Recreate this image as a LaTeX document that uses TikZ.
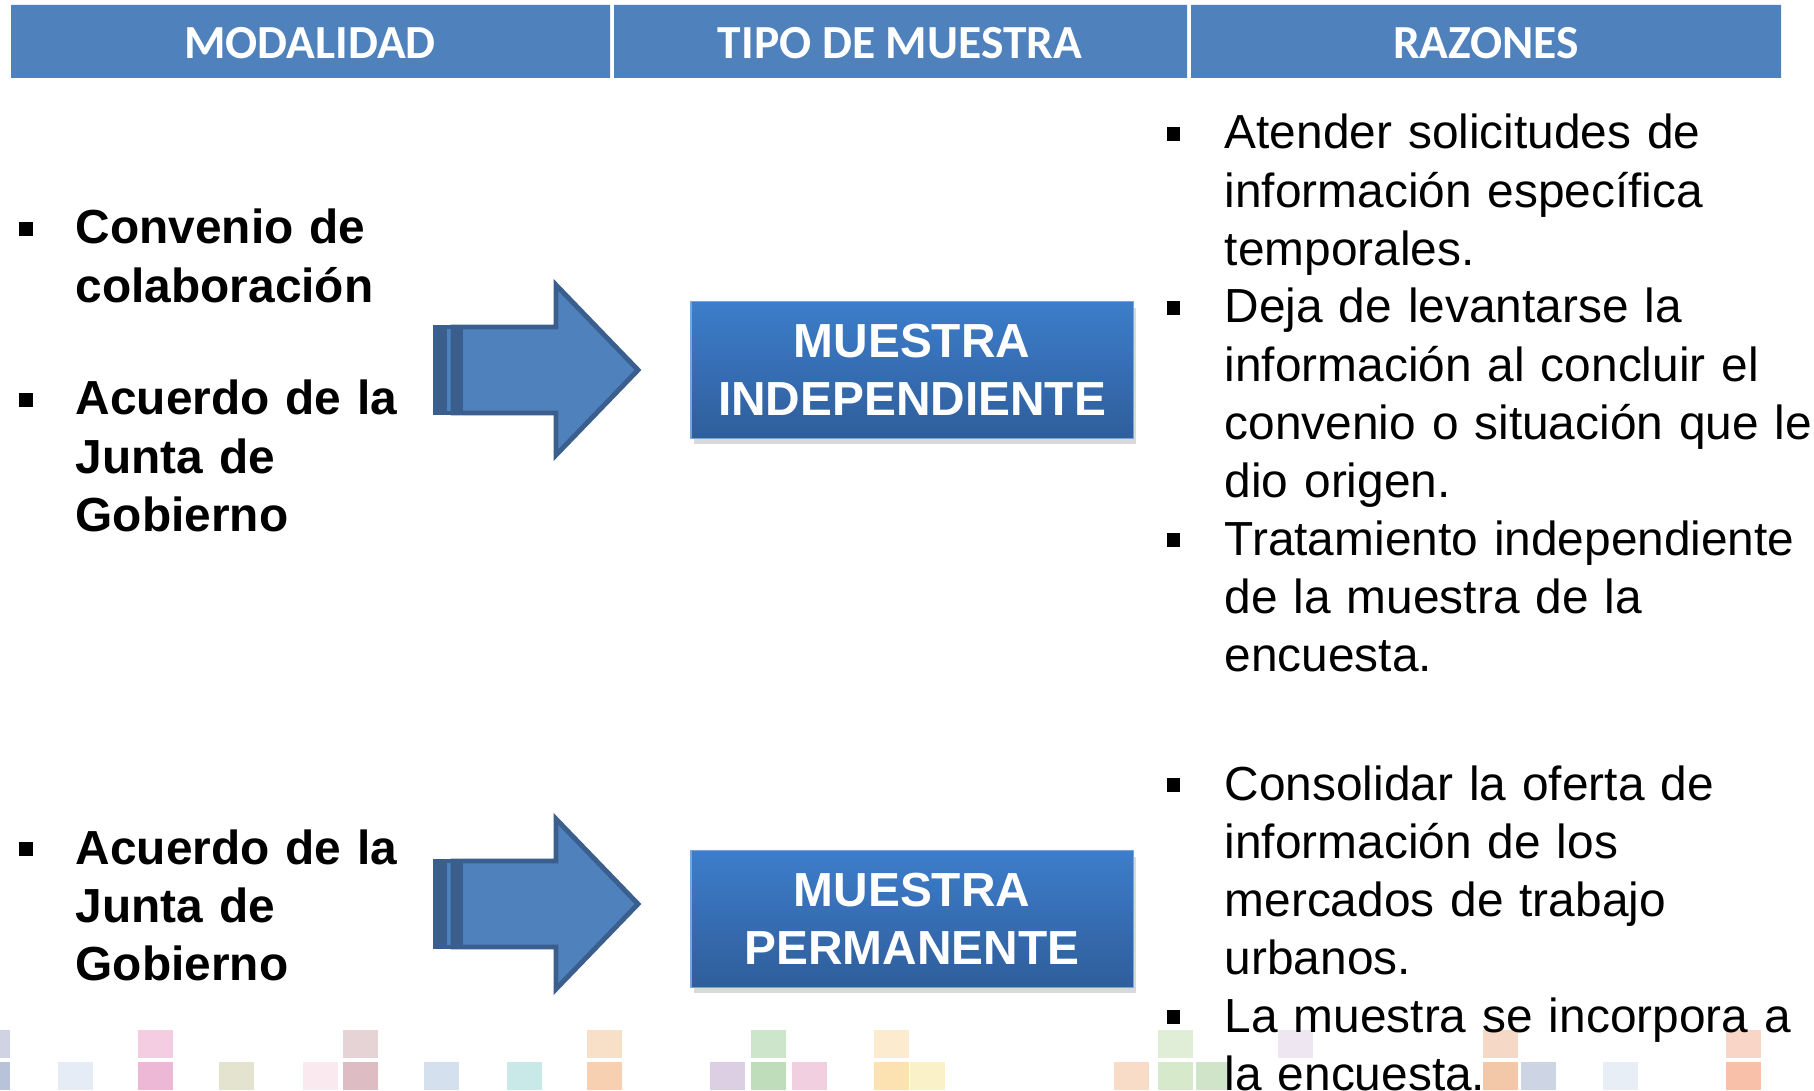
\documentclass[tikz,border=0pt]{standalone}
\usepackage{fontspec}
\setmainfont{Liberation Sans}
\newfontfamily\cabfont{Carlito}
\usetikzlibrary{shadows}
\definecolor{azulcab}{HTML}{4F81BD}
\definecolor{azulborde}{HTML}{3A5F8F}
\definecolor{azularriba}{HTML}{3D7DCB}
\definecolor{azulabajo}{HTML}{2F5E9B}
\begin{document}
\begin{tikzpicture}[x=0.01cm,y=-0.01cm,line join=round,
	texto/.style={anchor=base west,inner sep=0pt,align=left,text width=180pt,
		font=\fontsize{13.6}{16.5}\selectfont},
	negrita/.style={texto,text width=120pt,font=\fontsize{13.6}{16.5}\selectfont\bfseries},
	vineta/.style={fill=black,inner sep=0pt,minimum size=3.7pt},
	cab/.style={text=white,inner sep=0pt,font=\cabfont\fontsize{13.5}{16}\selectfont\bfseries},
	caja/.style={top color=azularriba,bottom color=azulabajo,draw=azularriba!70!white,
		line width=0.3pt,minimum width=125.7pt,minimum height=38.7pt,inner sep=0pt,
		align=center,text=white,font=\fontsize{13.6}{16.5}\selectfont\bfseries,
		drop shadow={shadow xshift=0.8pt,shadow yshift=-1.6pt,opacity=0.3}}]
	\useasboundingbox (0,0) rectangle (1814,1091);
	% franja de colores al pie
	\foreach \xa/\ya/\hex in {-25/1030/D0D3E3,138/1030/F5CDE3,343/1030/E6D3D5,
		587/1030/F8E0C8,751/1030/CDE6CB,874/1030/FDEBD0,1158/1030/E0EED8,
		1278/1030/EEE6F0,1483/1030/F5D8C6,1726/1030/F9D5C8,
		-25/1062/B8C2D8,58/1062/E6ECF6,138/1062/EDB8D6,219/1062/E3E3CF,
		303/1062/FAEAF0,343/1062/DDBDC3,424/1062/D5E0EE,507/1062/C9E8E8,
		587/1062/F6D0B0,710/1062/DCCFE3,751/1062/BFDDBB,792/1062/F2CFE0,
		874/1062/FCE2B0,910/1062/FBF1C8,1114/1062/F9DCC8,1158/1062/D6EACB,
		1196/1062/CFE4C8,1483/1062/F3C8A8,1521/1062/CDD5E5,1603/1062/E8EEF6,
		1726/1062/F8C0A8}{
		\definecolor{tono}{HTML}{\hex}
		\fill[tono] (\xa,\ya) rectangle ++(35,28);
	}
	% cabecera
	\fill[azulcab] (11,5) rectangle (610,78) (614,5) rectangle (1187,78)
		(1191,5) rectangle (1781,78);
	\node[cab] (modalidad) at (310,43) {MODALIDAD};
	\node[cab] (tipo) at (900,43) {TIPO DE MUESTRA};
	\node[cab] (razones) at (1486,43) {RAZONES};
	% flechas
	\foreach \yc in {370,904}{
		\draw[azulborde,fill=azulcab,line width=1.4pt,line join=miter]
			(435,\yc-43) rectangle (455,\yc+43);
		\fill[azulborde] (433,\yc-44) rectangle (447,\yc+44);
		\draw[azulborde,fill=azulcab,line width=1.4pt,line join=miter]
			(453,\yc-43) -- (556,\yc-43) -- (556,\yc-85) -- (638,\yc)
			-- (556,\yc+85) -- (556,\yc+43) -- (453,\yc+43) -- cycle;
		\fill[azulborde] (453,\yc-44) rectangle (463,\yc+44);
	}
	\node[caja] (indep) at (912,370) {MUESTRA\\INDEPENDIENTE};
	\node[caja] (perm) at (912,919) {MUESTRA\\PERMANENTE};
	% viñetas
	\foreach \xb/\yb [count=\i] in {26/229,26/400,26/849,1173/134,1173/308,
		1173/540,1173/785,1173/1017}
		\node[vineta] (v\i) at (\xb,\yb) {};
	\node[negrita] (convenio) at (75,244) {Convenio de\\colaboración};
	\node[negrita] (acuerdo) at (75,415) {Acuerdo de la\\Junta de\\Gobierno};
	\node[negrita] (acuerdodos) at (75,864) {Acuerdo de la\\Junta de\\Gobierno};
	\node[texto] (atender) at (1224,149)
		{Atender solicitudes de\\información específica\\temporales.};
	\node[texto] (deja) at (1224,323)
		{Deja de levantarse la\\información al concluir el\\convenio o situación que le\\dio origen.};
	\node[texto] (trata) at (1224,555)
		{Tratamiento independiente\\de la muestra de la\\encuesta.};
	\node[texto] (consolidar) at (1224,800)
		{Consolidar la oferta de\\información de los\\mercados de trabajo\\urbanos.};
	\node[texto] (incorpora) at (1224,1032)
		{La muestra se incorpora a\\la encuesta.};
\end{tikzpicture}
\end{document}
